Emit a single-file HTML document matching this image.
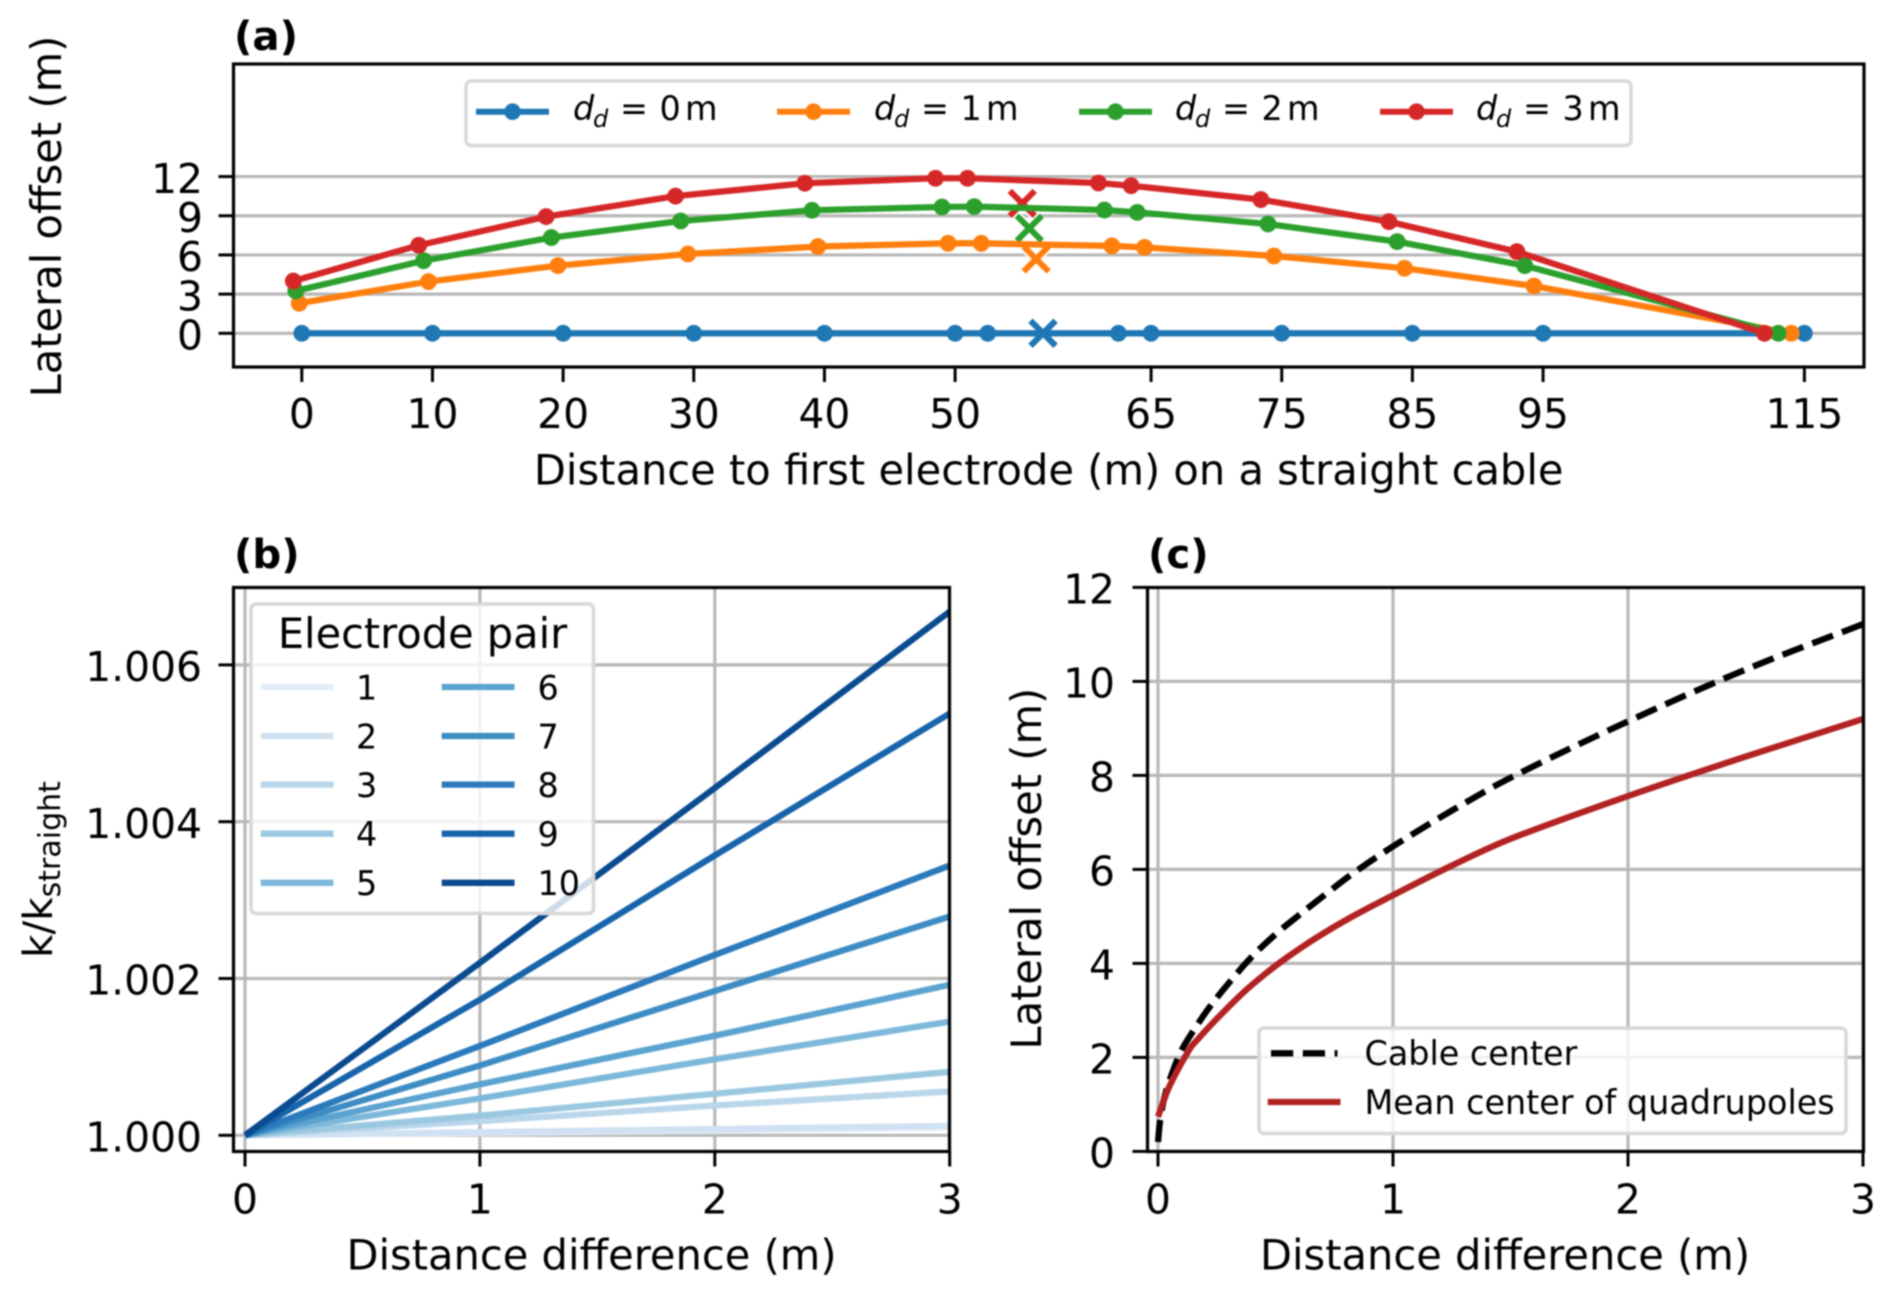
<!DOCTYPE html>
<html>
<head>
<meta charset="utf-8">
<title>Lateral offset and geometric factor charts</title>
<style>
html,body{margin:0;padding:0;background:#fff;}
svg{display:block;filter:blur(0.7px);}
text{font-family:"DejaVu Sans","Liberation Sans",sans-serif;fill:#000;}
.tick{font-size:40.8px;}
.label{font-size:41.6px;}
.title{font-size:40.3px;font-weight:bold;}
.leg{font-size:33.4px;}
</style>
</head>
<body>
<svg id="fig" xmlns="http://www.w3.org/2000/svg" width="1892" height="1293" viewBox="0 0 1892 1293">
<defs>
<clipPath id="clip-a"><rect x="233.5" y="64" width="1630.5" height="303"/></clipPath>
<clipPath id="clip-b"><rect x="233.5" y="587.5" width="716" height="564"/></clipPath>
<clipPath id="clip-c"><rect x="1147.5" y="587.5" width="716" height="564"/></clipPath>
</defs>
<g id="a-under" clip-path="url(#clip-a)"></g>
<g id="a-marks" clip-path="url(#clip-a)"></g>
<g id="b-under" clip-path="url(#clip-b)"></g>
<g id="b-marks" clip-path="url(#clip-b)"></g>
<g id="c-under" clip-path="url(#clip-c)"></g>
<g id="c-marks" clip-path="url(#clip-c)"></g>
<g id="axes"></g>

<rect x="233.5" y="64" width="1630.5" height="303" fill="none" stroke="#000" stroke-width="3.2"/>
<rect x="233.5" y="587.5" width="716" height="564" fill="none" stroke="#000" stroke-width="3.2"/>
<rect x="1147.5" y="587.5" width="716" height="564" fill="none" stroke="#000" stroke-width="3.2"/>

<text class="title" x="234" y="50">(a)</text>
<text class="title" x="234" y="568">(b)</text>
<text class="title" x="1148" y="568">(c)</text>

<text class="label" x="1048.7" y="484.5" text-anchor="middle">Distance to first electrode (m) on a straight cable</text>
<text class="label" transform="translate(61,216.5) rotate(-90)" text-anchor="middle">Lateral offset (m)</text>
<text class="label" x="591.5" y="1269.5" text-anchor="middle">Distance difference (m)</text>
<text transform="translate(52,869.5) rotate(-90)" text-anchor="middle" font-size="40.5">k/k<tspan font-size="30" dy="8">straight</tspan></text>
<text class="label" x="1505" y="1269.5" text-anchor="middle">Distance difference (m)</text>
<text class="label" transform="translate(1041,868.7) rotate(-90)" text-anchor="middle">Lateral offset (m)</text>

<g>
<rect x="466" y="81" width="1165" height="64.5" rx="5" fill="#fff" fill-opacity="0.8" stroke="#d8d8d8" stroke-width="3.5"/>
<g>
<line x1="476" y1="111.7" x2="549" y2="111.7" stroke="#1f77b4" stroke-width="6"/><circle cx="512.5" cy="111.7" r="8.3" fill="#1f77b4"/>
<text class="leg" y="120"><tspan x="573" font-style="italic">d</tspan><tspan x="593" dy="7" font-size="24" font-style="italic">d</tspan><tspan x="620" dy="-7">=</tspan><tspan x="659.5">0</tspan><tspan x="685">m</tspan></text>
</g>
<g>
<line x1="777" y1="111.7" x2="850" y2="111.7" stroke="#ff7f0e" stroke-width="6"/><circle cx="813.5" cy="111.7" r="8.3" fill="#ff7f0e"/>
<text class="leg" y="120"><tspan x="874" font-style="italic">d</tspan><tspan x="894" dy="7" font-size="24" font-style="italic">d</tspan><tspan x="921" dy="-7">=</tspan><tspan x="960.5">1</tspan><tspan x="986">m</tspan></text>
</g>
<g>
<line x1="1079" y1="111.7" x2="1152" y2="111.7" stroke="#2ca02c" stroke-width="6"/><circle cx="1115.5" cy="111.7" r="8.3" fill="#2ca02c"/>
<text class="leg" y="120"><tspan x="1175" font-style="italic">d</tspan><tspan x="1195" dy="7" font-size="24" font-style="italic">d</tspan><tspan x="1222" dy="-7">=</tspan><tspan x="1261.5">2</tspan><tspan x="1287">m</tspan></text>
</g>
<g>
<line x1="1380" y1="111.7" x2="1453" y2="111.7" stroke="#d62728" stroke-width="6"/><circle cx="1416.5" cy="111.7" r="8.3" fill="#d62728"/>
<text class="leg" y="120"><tspan x="1476" font-style="italic">d</tspan><tspan x="1496" dy="7" font-size="24" font-style="italic">d</tspan><tspan x="1523" dy="-7">=</tspan><tspan x="1562.5">3</tspan><tspan x="1588">m</tspan></text>
</g>
</g>

<g>
<rect x="251" y="604" width="342.5" height="309.5" rx="5" fill="#fff" fill-opacity="0.8" stroke="#d8d8d8" stroke-width="3.5"/>
<text x="422.5" y="648" font-size="41.5" text-anchor="middle">Electrode pair</text>
<g stroke-width="6.3">
<line x1="260.7" y1="687" x2="333.5" y2="687" stroke="#e3eef9"/>
<line x1="260.7" y1="736" x2="333.5" y2="736" stroke="#d0e1f2"/>
<line x1="260.7" y1="784.6" x2="333.5" y2="784.6" stroke="#bad6eb"/>
<line x1="260.7" y1="833.7" x2="333.5" y2="833.7" stroke="#9ac8e0"/>
<line x1="260.7" y1="882.8" x2="333.5" y2="882.8" stroke="#7db8da"/>
<line x1="441.7" y1="687" x2="514.5" y2="687" stroke="#5ba3d0"/>
<line x1="441.7" y1="736" x2="514.5" y2="736" stroke="#3d8dc4"/>
<line x1="441.7" y1="784.6" x2="514.5" y2="784.6" stroke="#2b7abb"/>
<line x1="441.7" y1="833.7" x2="514.5" y2="833.7" stroke="#1764ab"/>
<line x1="441.7" y1="882.8" x2="514.5" y2="882.8" stroke="#0a4a90"/>
</g>
<g class="leg">
<text class="leg" x="356" y="699.3">1</text>
<text class="leg" x="356" y="748.3">2</text>
<text class="leg" x="356" y="797">3</text>
<text class="leg" x="356" y="846">4</text>
<text class="leg" x="356" y="895.2">5</text>
<text class="leg" x="537.5" y="699.3">6</text>
<text class="leg" x="537.5" y="748.3">7</text>
<text class="leg" x="537.5" y="797">8</text>
<text class="leg" x="537.5" y="846">9</text>
<text class="leg" x="537.5" y="895.2">10</text>
</g>
</g>

<g>
<rect x="1259" y="1028" width="587" height="105.5" rx="5" fill="#fff" fill-opacity="0.8" stroke="#d8d8d8" stroke-width="3.5"/>
<line x1="1271" y1="1053.3" x2="1337.5" y2="1053.3" stroke="#000" stroke-width="6.3" stroke-dasharray="22.2 9.6"/>
<line x1="1267.7" y1="1102" x2="1340.5" y2="1102" stroke="#b22222" stroke-width="6.3"/>
<text class="leg" x="1364.5" y="1065">Cable center</text>
<text class="leg" x="1364.5" y="1114">Mean center of quadrupoles</text>
</g>

<script>
// Panel (a): electrode positions and lateral offsets per drift distance
const aXTicks = [0, 10, 20, 30, 40, 50, 65, 75, 85, 95, 115];
const aYTicks = [0, 3, 6, 9, 12];
const aD0X = [0, 10, 20, 30, 40, 50, 52.5, 62.5, 65, 75, 85, 95, 115];
const aD0Y = [0, 0, 0, 0, 0, 0, 0, 0, 0, 0, 0, 0, 0];
const aD1X = [-0.2, 9.7, 19.6, 29.55, 39.5, 49.46, 52.0, 62.0, 64.5, 74.4, 84.4, 94.3, 114.0];
const aD1Y = [2.3, 3.96, 5.18, 6.07, 6.64, 6.89, 6.89, 6.69, 6.58, 5.92, 4.98, 3.62, 0];
const aD2X = [-0.46, 9.32, 19.1, 29.0, 39.05, 49.0, 51.46, 61.43, 63.94, 73.95, 83.83, 93.6, 113.0];
const aD2Y = [3.24, 5.56, 7.33, 8.6, 9.42, 9.67, 9.7, 9.44, 9.26, 8.37, 7.02, 5.18, 0];
const aD3X = [-0.65, 8.95, 18.7, 28.6, 38.5, 48.5, 50.95, 60.97, 63.47, 73.4, 83.2, 93.0, 111.94];
const aD3Y = [4.0, 6.74, 8.93, 10.5, 11.49, 11.87, 11.87, 11.51, 11.3, 10.24, 8.55, 6.25, 0];
const aCrossX = [55.14, 55.68, 56.2, 56.73];
const aCrossY = [9.95, 8.04, 5.69, 0];

// Panel (b): k/k_straight minus one, at distance differences
const bXTicks = [0, 1, 2, 3];
const bYTicks = [1.000, 1.002, 1.004, 1.006];
const bX = [0, 1, 2, 3];
const bPair1 = [0, 0.00003, 0.00006, 0.0001];
const bPair2 = [0, 0.00004, 0.00008, 0.00012];
const bPair3 = [0, 0.00018, 0.00038, 0.00056];
const bPair4 = [0, 0.00025, 0.00053, 0.00081];
const bPair5 = [0, 0.00047, 0.00097, 0.00145];
const bPair6 = [0, 0.00065, 0.00127, 0.00192];
const bPair7 = [0, 0.00089, 0.00184, 0.00279];
const bPair8 = [0, 0.00114, 0.0023, 0.00344];
const bPair9 = [0, 0.00173, 0.00357, 0.00538];
const bPair10 = [0, 0.0022, 0.00443, 0.00668];

// Panel (c): lateral offset curves
const cXTicks = [0, 1, 2, 3];
const cYTicks = [0, 2, 4, 6, 8, 10, 12];
const cCableX = [0, 0.01, 0.03, 0.065, 0.1, 0.143, 0.221, 0.306, 0.399, 0.505, 0.611, 0.718, 0.831, 1, 1.25, 1.5, 2, 2.5, 3];
const cCableY = [0.2, 0.7, 1.2, 1.73, 2.15, 2.51, 3.08, 3.61, 4.14, 4.64, 5.07, 5.49, 5.92, 6.49, 7.25, 7.95, 9.15, 10.25, 11.22];
const cMeanX = [0, 0.05, 0.136, 0.172, 0.25, 0.363, 0.462, 0.547, 0.675, 0.817, 1, 1.25, 1.5, 2, 2.5, 3];
const cMeanY = [0.74, 1.4, 2.19, 2.4, 2.82, 3.38, 3.8, 4.12, 4.55, 4.97, 5.45, 6.08, 6.65, 7.56, 8.4, 9.2];

const NS = 'http://www.w3.org/2000/svg';
function xA(v) { return 301.8 + 13.066 * v; }
function yA(v) { return 333.3 - 13.06 * v; }
function xB(v) { return 245 + 234.9 * v; }
function yB(v) { return 1135.3 - 78400 * (v - 1); }
function xC(v) { return 1158 + 235 * v; }
function yC(v) { return 1151.4 - 47 * v; }

function mk(tag, parent, props) {
  const el = document.createElementNS(NS, tag);
  for (const k in props) el.setAttribute(k, props[k]);
  parent.appendChild(el);
  return el;
}
function pointsOf(xs, ys, fx, fy) {
  return xs.map(function (x, i) { return fx(x).toFixed(2) + ',' + fy(ys[i]).toFixed(2); }).join(' ');
}
function smoothPath(xs, ys, fx, fy) {
  const p = xs.map(function (x, i) { return [fx(x), fy(ys[i])]; });
  let d = 'M' + p[0][0].toFixed(2) + ' ' + p[0][1].toFixed(2);
  for (let i = 0; i < p.length - 1; i++) {
    const a = p[Math.max(i - 1, 0)], b = p[i], c = p[i + 1], e = p[Math.min(i + 2, p.length - 1)];
    const seg = Math.hypot(c[0] - b[0], c[1] - b[1]);
    const l1 = Math.hypot(c[0] - a[0], c[1] - a[1]) || 1;
    const l2 = Math.hypot(e[0] - b[0], e[1] - b[1]) || 1;
    const c1x = b[0] + (c[0] - a[0]) / l1 * seg / 3, c1y = b[1] + (c[1] - a[1]) / l1 * seg / 3;
    const c2x = c[0] - (e[0] - b[0]) / l2 * seg / 3, c2y = c[1] - (e[1] - b[1]) / l2 * seg / 3;
    d += 'C' + c1x.toFixed(2) + ' ' + c1y.toFixed(2) + ' ' + c2x.toFixed(2) + ' ' + c2y.toFixed(2) + ' ' + c[0].toFixed(2) + ' ' + c[1].toFixed(2);
  }
  return d;
}
const axes = document.getElementById('axes');

function xTicks(ticks, fx, yBottom, yText, prefix) {
  ticks.forEach(function (t) {
    const m = mk('line', axes, { x1: fx(t), x2: fx(t), y1: yBottom, y2: yBottom + 15, stroke: '#000', 'stroke-width': 3 });
    
    
    const l = mk('text', axes, { x: fx(t), y: yText, 'text-anchor': 'middle', class: 'tick' });
    l.textContent = String(t);
    
    
  });
}
function yTicks(ticks, fy, xLeft, xText, prefix, fmt) {
  ticks.forEach(function (t) {
    const m = mk('line', axes, { x1: xLeft - 15, x2: xLeft, y1: fy(t), y2: fy(t), stroke: '#000', 'stroke-width': 3 });
    
    
    const l = mk('text', axes, { x: xText, y: fy(t) + 16.2, 'text-anchor': 'end', class: 'tick' });
    l.textContent = fmt(t);
    
    
  });
}
function hGrid(parent, ticks, fy, x1, x2, prefix) {
  ticks.forEach(function (t) {
    const g = mk('line', parent, { x1: x1, x2: x2, y1: fy(t), y2: fy(t), stroke: '#b8b8b8', 'stroke-width': 3.2 });
    
    
  });
}
function vGrid(parent, ticks, fx, y1, y2, prefix) {
  ticks.forEach(function (t) {
    const g = mk('line', parent, { x1: fx(t), x2: fx(t), y1: y1, y2: y2, stroke: '#b8b8b8', 'stroke-width': 3.2 });
    
    
  });
}

/* ---------- Panel a ---------- */
const aUnder = document.getElementById('a-under');
const aMarks = document.getElementById('a-marks');
const aColors = ['#1f77b4', '#ff7f0e', '#2ca02c', '#d62728'];
const aXs = [aD0X, aD1X, aD2X, aD3X];
const aYs = [aD0Y, aD1Y, aD2Y, aD3Y];
const aCrossColors = ['#d62728', '#2ca02c', '#ff7f0e', '#1f77b4'];

hGrid(aUnder, aYTicks, yA, 233.5, 1864, 'panel-a');
aCrossX.forEach(function (x, i) {
  const cx = xA(x), cy = yA(aCrossY[i]), s = 12.5;
  [['#fff', 9.5], [aCrossColors[i], 6]].forEach(function (st, j) {
    const p = mk('path', aUnder, {
      d: 'M' + (cx - s) + ' ' + (cy - s) + 'L' + (cx + s) + ' ' + (cy + s) + 'M' + (cx - s) + ' ' + (cy + s) + 'L' + (cx + s) + ' ' + (cy - s),
      stroke: st[0], 'stroke-width': st[1], fill: 'none'
    });
    
    
  });
});
aXs.forEach(function (xs, s) {
  const line = mk('polyline', aMarks, { points: pointsOf(xs, aYs[s], xA, yA), fill: 'none', stroke: aColors[s], 'stroke-width': 6.3, 'stroke-linejoin': 'round' });
  
  
  xs.forEach(function (x, i) {
    const c = mk('circle', aMarks, { cx: xA(x), cy: yA(aYs[s][i]), r: 8.4, fill: aColors[s] });
    
    
  });
  // blue cross sits on the flat line; keep it visible above the blue series
  if (s === 0) {
    const cx = xA(aCrossX[3]), cy = yA(aCrossY[3]), h = 12.5;
    const p = mk('path', aMarks, {
      d: 'M' + (cx - h) + ' ' + (cy - h) + 'L' + (cx + h) + ' ' + (cy + h) + 'M' + (cx - h) + ' ' + (cy + h) + 'L' + (cx + h) + ' ' + (cy - h),
      stroke: aColors[0], 'stroke-width': 6, fill: 'none'
    });
    
    
  }
});
xTicks(aXTicks, xA, 367, 428, 'panel-a');
yTicks(aYTicks, yA, 233.5, 203, 'panel-a', String);

/* ---------- Panel b ---------- */
const bUnder = document.getElementById('b-under');
const bMarks = document.getElementById('b-marks');
const bSeries = [bPair1, bPair2, bPair3, bPair4, bPair5, bPair6, bPair7, bPair8, bPair9, bPair10];
const bColors = ['#e3eef9', '#d0e1f2', '#bad6eb', '#9ac8e0', '#7db8da', '#5ba3d0', '#3d8dc4', '#2b7abb', '#1764ab', '#0a4a90'];
hGrid(bUnder, bYTicks, yB, 233.5, 950, 'panel-b');
vGrid(bUnder, bXTicks, xB, 587.5, 1151.5, 'panel-b');
bSeries.forEach(function (ys, s) {
  const vals = ys.map(function (d) { return 1 + d; });
  const line = mk('polyline', bMarks, { points: pointsOf(bX, vals, xB, yB), fill: 'none', stroke: bColors[s], 'stroke-width': 6.3, 'stroke-linejoin': 'round' });
  
  
});
xTicks(bXTicks, xB, 1151.5, 1213.5, 'panel-b');
yTicks(bYTicks, yB, 233.5, 202, 'panel-b', function (v) { return v.toFixed(3); });

/* ---------- Panel c ---------- */
const cUnder = document.getElementById('c-under');
const cMarks = document.getElementById('c-marks');
hGrid(cUnder, cYTicks, yC, 1147.5, 1864, 'panel-c');
vGrid(cUnder, cXTicks, xC, 587.5, 1151.5, 'panel-c');
const cableLine = mk('path', cMarks, { d: smoothPath(cCableX, cCableY, xC, yC), fill: 'none', stroke: '#000', 'stroke-width': 6.3, 'stroke-dasharray': '22.2 9.6' });


const meanLine = mk('path', cMarks, { d: smoothPath(cMeanX, cMeanY, xC, yC), fill: 'none', stroke: '#b22222', 'stroke-width': 6.3, 'stroke-linejoin': 'round' });


xTicks(cXTicks, xC, 1151.5, 1213.5, 'panel-c');
yTicks(cYTicks, yC, 1147.5, 1115, 'panel-c', String);
</script>
</svg>
</body>
</html>
